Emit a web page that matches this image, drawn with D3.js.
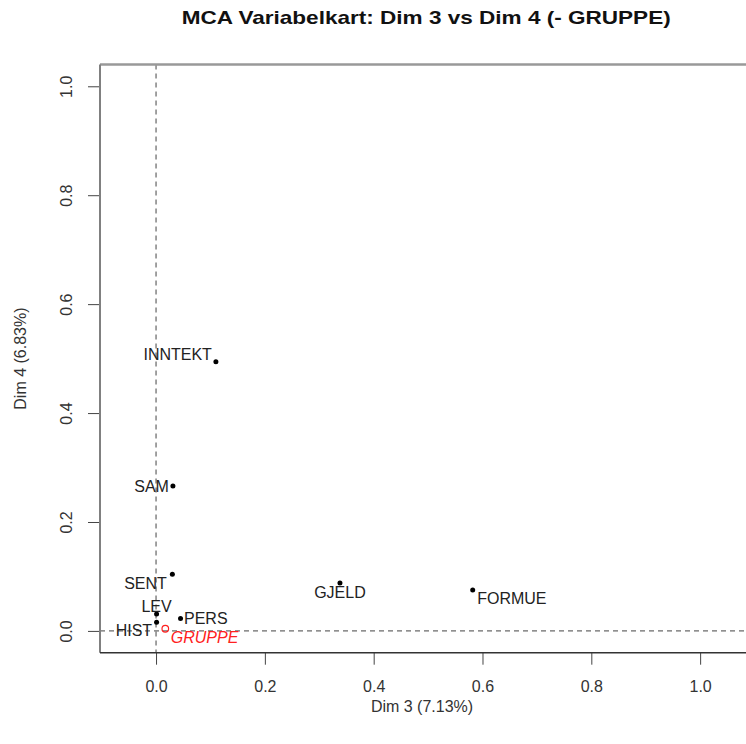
<!DOCTYPE html>
<html><head><meta charset="utf-8">
<script src="https://cdn.jsdelivr.net/npm/d3@7"></script>
<style>body{margin:0;background:#fff}svg{display:block;font-family:"Liberation Sans",Arial,sans-serif}</style>
</head><body>
<svg id="c" width="746" height="744"></svg>
<script>
// ---- data ----
const variables = ["INNTEKT","SAM","SENT","LEV","HIST","PERS","GJELD","FORMUE"];
const dim3 = [0.110,0.031,0.030,0.001,0.001,0.045,0.338,0.582];
const dim4 = [0.494,0.266,0.104,0.031,0.016,0.023,0.088,0.075];
const suppVariables = ["GRUPPE"];
const suppDim3 = [0.017];
const suppDim4 = [0.004];
const xTicks = [0,0.2,0.4,0.6,0.8,1.0];
const yTicks = [0,0.2,0.4,0.6,0.8,1.0];
const titleText = "MCA Variabelkart: Dim 3 vs Dim 4 (- GRUPPE)";
const xLabel = "Dim 3 (7.13%)";
const yLabel = "Dim 4 (6.83%)";
// label placement (anchor, dx px, dy px)
const labelPlacement = {
  INNTEKT:["end",-4,-7], SAM:["end",-4,0], SENT:["end",-5.5,9], LEV:["middle",0,-7.5],
  HIST:["end",-4.5,8.5], PERS:["start",3.5,0], GJELD:["middle",0,9.5], FORMUE:["start",4.5,8.5],
  GRUPPE:["start",5.5,8.5]
};

// ---- layout ----
const L=100, T=64.5, R=754, B=652.7;
const svg = d3.select("#c");
const x = d3.scaleLinear().domain([-0.103,1.099]).range([L,R]);
const y = d3.scaleLinear().domain([-0.04,1.04]).range([B,T]);

svg.append("defs").append("clipPath").attr("id","clip")
  .append("rect").attr("x",L).attr("y",T).attr("width",R-L).attr("height",B-T);

// title
svg.append("text").attr("x",181.7).attr("y",24.3)
  .attr("font-size",19).attr("font-weight","bold").attr("fill","#111")
  .attr("textLength",489).attr("lengthAdjust","spacingAndGlyphs")
  .text(titleText);

// reference dashed lines
const g = svg.append("g").attr("clip-path","url(#clip)");
g.append("line").attr("x1",x(0)).attr("x2",x(0)).attr("y1",T).attr("y2",B)
  .attr("stroke","#444").attr("stroke-dasharray","5,4");
g.append("line").attr("x1",L).attr("x2",R).attr("y1",y(0)).attr("y2",y(0))
  .attr("stroke","#444").attr("stroke-dasharray","5,4");

// x axis
const xAxis = svg.append("g").attr("transform",`translate(0,${B})`)
  .call(d3.axisBottom(x).tickValues(xTicks).tickFormat(d3.format(".1f")).tickSize(12).tickPadding(15.6));
xAxis.select(".domain").remove();
xAxis.selectAll("line").attr("stroke","#444");
xAxis.selectAll("text").attr("font-size",16).attr("fill","#333").attr("font-family","Liberation Sans, Arial, sans-serif");

// y axis
const yAxis = svg.append("g").attr("transform",`translate(${L},0)`)
  .call(d3.axisLeft(y).tickValues(yTicks).tickFormat(d3.format(".1f")).tickSize(12));
yAxis.select(".domain").remove();
yAxis.selectAll("line").attr("stroke","#444");
yAxis.selectAll("text").remove();
yAxis.selectAll(".tick").append("text")
  .attr("transform","translate(-34,0) rotate(-90)")
  .attr("text-anchor","middle").attr("dy","0.35em")
  .attr("font-size",16).attr("fill","#333").attr("font-family","Liberation Sans, Arial, sans-serif")
  .text(d=>d3.format(".1f")(d));

// box
svg.append("line").attr("x1",L).attr("x2",R).attr("y1",T).attr("y2",T).attr("stroke","#999").attr("stroke-width",2.5);
svg.append("line").attr("x1",L).attr("x2",L).attr("y1",T).attr("y2",B).attr("stroke","#808080").attr("stroke-width",2);
svg.append("line").attr("x1",L).attr("x2",R).attr("y1",B).attr("y2",B).attr("stroke","#333").attr("stroke-width",1.5);
svg.append("line").attr("x1",R).attr("x2",R).attr("y1",T).attr("y2",B).attr("stroke","#333").attr("stroke-width",1.5);

// axis titles
svg.append("text").attr("x",(L+R)/2 - 5).attr("y",706).attr("dy","0.35em").attr("text-anchor","middle")
  .attr("font-size",16).attr("fill","#333").text(xLabel);
svg.append("text").attr("transform",`translate(20.5,${(T+B)/2}) rotate(-90)`).attr("dy","0.35em")
  .attr("text-anchor","middle").attr("font-size",16).attr("fill","#333").text(yLabel);

// points
const pts = variables.map((v,i)=>({name:v,x:dim3[i],y:dim4[i]}));
const supp = suppVariables.map((v,i)=>({name:v,x:suppDim3[i],y:suppDim4[i]}));

svg.selectAll("circle.act").data(pts).join("circle").attr("class","act")
  .attr("cx",d=>x(d.x)).attr("cy",d=>y(d.y)).attr("r",2.5).attr("fill","#000");
svg.selectAll("text.act").data(pts).join("text").attr("class","act")
  .attr("x",d=>x(d.x)+labelPlacement[d.name][1]).attr("y",d=>y(d.y)+labelPlacement[d.name][2])
  .attr("dy","0.35em").attr("text-anchor",d=>labelPlacement[d.name][0])
  .attr("font-size",16).attr("fill","#222").text(d=>d.name);

svg.selectAll("circle.sup").data(supp).join("circle").attr("class","sup")
  .attr("cx",d=>x(d.x)).attr("cy",d=>y(d.y)).attr("r",3.3).attr("fill","none")
  .attr("stroke","#ff2020").attr("stroke-width",1.2);
svg.selectAll("text.sup").data(supp).join("text").attr("class","sup")
  .attr("x",d=>x(d.x)+labelPlacement[d.name][1]).attr("y",d=>y(d.y)+labelPlacement[d.name][2])
  .attr("dy","0.35em").attr("text-anchor",d=>labelPlacement[d.name][0])
  .attr("font-size",16).attr("font-style","italic").attr("fill","#ff2020").text(d=>d.name);
</script>
</body></html>
